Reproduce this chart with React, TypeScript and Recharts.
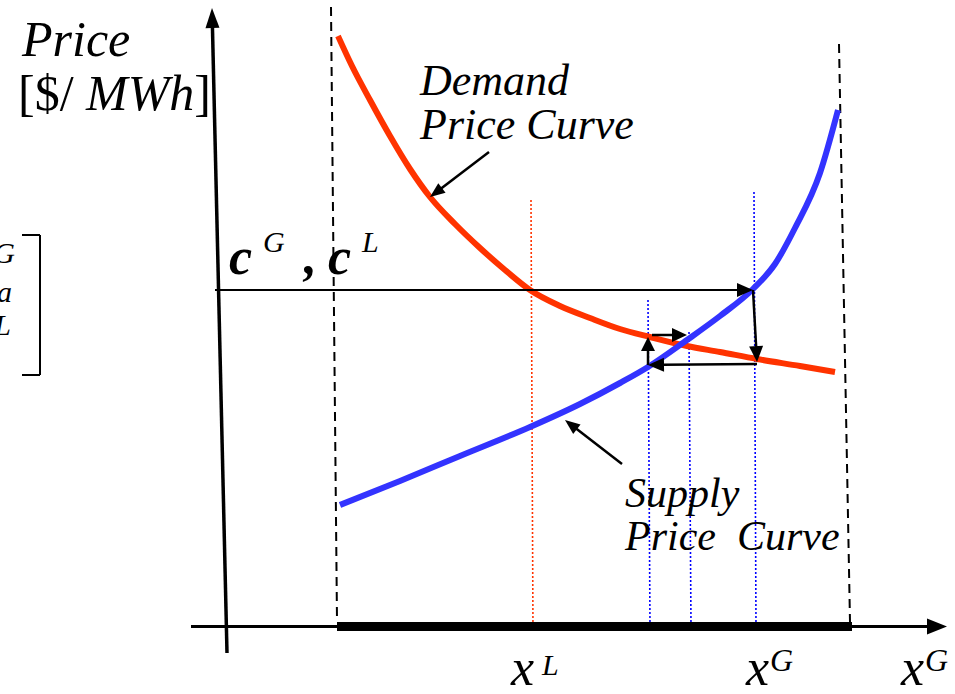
import React from "react";
import {
  ComposedChart,
  Line,
  XAxis,
  YAxis,
  ReferenceLine,
  ReferenceDot,
} from "recharts";

// Schematic units: quantity to the right, price upward
const demandQty = [338, 352, 370, 390, 410, 430, 455, 480, 505, 530, 560, 590, 620, 650, 687, 720, 757, 800, 835];
const demandPrice = [658, 628, 594, 558, 525, 497, 470, 446, 424, 404, 388, 376, 365, 357, 348, 342, 335, 328, 322];

const supplyQty = [340, 400, 460, 530, 580, 620, 648, 687, 720, 753, 775, 795, 820, 838];
const supplyPrice = [189, 213, 238, 267, 290, 311, 327, 354, 378, 405, 430, 466, 521, 584];

// price level c^G, c^L and the iteration quantities
const priceLevel = 404;
const xL = 531;
const xGsteps = [648, 689];
const xG = 754;

const demandData = demandQty.map((q, i) => ({ q, p: demandPrice[i] }));
const supplyData = supplyQty.map((q, i) => ({ q, p: supplyPrice[i] }));

const RED = "#ff3300";
const BLUE = "#3333ff";
const FONT = '"Liberation Serif", "Times New Roman", serif';

const arrowShape = (len: number, half: number, width: number) => (props: any) => {
  const { x1, y1, x2, y2 } = props;
  const dx = x2 - x1;
  const dy = y2 - y1;
  const d = Math.hypot(dx, dy) || 1;
  const ux = dx / d;
  const uy = dy / d;
  const bx = x2 - ux * len;
  const by = y2 - uy * len;
  const px = -uy * half;
  const py = ux * half;
  return (
    <g>
      <line x1={x1} y1={y1} x2={bx + ux} y2={by + uy} stroke="#000" strokeWidth={width} />
      <polygon points={`${x2},${y2} ${bx + px},${by + py} ${bx - px},${by - py}`} fill="#000" />
    </g>
  );
};

const Note = ({ x, y, render }: { x: number; y: number; render: (cx: number, cy: number) => React.ReactNode }) => (
  <ReferenceDot
    x={x}
    y={y}
    r={0}
    fill="none"
    stroke="none"
    shape={(p: any) => <g style={{ fontFamily: FONT }}>{render(p.cx, p.cy)}</g>}
  />
);

const it = { style: { fontFamily: FONT, fontStyle: "italic" as const }, fill: "#000" };

export default function App() {
  return (
    <div style={{ position: "absolute", left: 0, top: 0, width: 955, height: 694, background: "#fff", fontFamily: FONT }}>
      <ComposedChart width={955} height={694} margin={{ top: 0, right: 0, bottom: 0, left: 0 }}>
        <XAxis type="number" dataKey="q" domain={[0, 955]} hide />
        <YAxis type="number" dataKey="p" domain={[0, 694]} hide />

        {/* feasible range bounds */}
        <ReferenceLine segment={[{ x: 331, y: 687 }, { x: 337, y: 74 }]} stroke="#000" strokeWidth={2} strokeDasharray="9 6" />
        <ReferenceLine segment={[{ x: 839, y: 650 }, { x: 850, y: 72 }]} stroke="#000" strokeWidth={2} strokeDasharray="9 6" />

        {/* quantity markers */}
        <ReferenceLine segment={[{ x: xL, y: 494 }, { x: xL + 2, y: 62 }]} stroke={RED} strokeWidth={1.6} strokeDasharray="2 2" />
        <ReferenceLine segment={[{ x: xGsteps[0], y: 394 }, { x: xGsteps[0] + 2, y: 67 }]} stroke="#0000ff" strokeWidth={1.6} strokeDasharray="2 2" />
        <ReferenceLine segment={[{ x: xGsteps[1], y: 362 }, { x: xGsteps[1] + 2, y: 67 }]} stroke="#0000ff" strokeWidth={1.6} strokeDasharray="2 2" />
        <ReferenceLine segment={[{ x: xG, y: 502 }, { x: xG + 2, y: 67 }]} stroke="#0000ff" strokeWidth={1.6} strokeDasharray="2 2" />

        {/* axes */}
        <ReferenceLine segment={[{ x: 191, y: 67.5 }, { x: 947, y: 67.5 }]} shape={arrowShape(20, 8, 3)} />
        <ReferenceLine segment={[{ x: 337, y: 67.5 }, { x: 852, y: 67.5 }]} stroke="#000" strokeWidth={9} />
        <ReferenceLine segment={[{ x: 227, y: 41 }, { x: 212, y: 686 }]} shape={arrowShape(20, 7, 3.5)} />

        <Line
          data={demandData}
          dataKey="p"
          type="monotone"
          stroke={RED}
          strokeWidth={6}
          strokeDasharray="5000 0"
          dot={false}
          activeDot={false}
          isAnimationActive={false}
        />
        <Line
          data={supplyData}
          dataKey="p"
          type="monotone"
          stroke={BLUE}
          strokeWidth={6}
          strokeDasharray="5000 0"
          dot={false}
          activeDot={false}
          isAnimationActive={false}
        />

        {/* iteration arrows */}
        <ReferenceLine segment={[{ x: 215, y: priceLevel }, { x: xG - 1, y: priceLevel }]} shape={arrowShape(16, 7, 1.8)} />
        <ReferenceLine segment={[{ x: xG - 1, y: priceLevel }, { x: xG + 3, y: 332 }]} shape={arrowShape(16, 7, 2.5)} />
        <ReferenceLine segment={[{ x: xG + 3, y: 330 }, { x: xGsteps[0], y: 329 }]} shape={arrowShape(16, 7, 2.5)} />
        <ReferenceLine segment={[{ x: xGsteps[0], y: 329 }, { x: xGsteps[0], y: 357 }]} shape={arrowShape(14, 7, 2.5)} />
        <ReferenceLine segment={[{ x: xGsteps[0] + 4, y: 359 }, { x: xGsteps[1] - 2, y: 359 }]} shape={arrowShape(15, 7, 2.5)} />

        {/* curve callouts */}
        <ReferenceLine segment={[{ x: 489, y: 542 }, { x: 430, y: 497 }]} shape={arrowShape(15, 6, 2.5)} />
        <ReferenceLine segment={[{ x: 622, y: 230 }, { x: 565, y: 274 }]} shape={arrowShape(15, 6, 2.5)} />

        {/* left bracket (cut off vector) */}
        <ReferenceLine segment={[{ x: 22, y: 459 }, { x: 40, y: 459 }]} stroke="#000" strokeWidth={2} />
        <ReferenceLine segment={[{ x: 40, y: 459 }, { x: 40, y: 319 }]} stroke="#000" strokeWidth={2} />
        <ReferenceLine segment={[{ x: 22, y: 319 }, { x: 40, y: 319 }]} stroke="#000" strokeWidth={2} />

        <Note x={22} y={638} render={(x, y) => <text x={x} y={y} fontSize={50} {...it}>Price</text>} />
        <Note
          x={18}
          y={584}
          render={(x, y) => (
            <text x={x} y={y} fontSize={50} fill="#000" style={{ fontFamily: FONT }}>
              [$/ <tspan style={{ fontStyle: "italic" }}>MWh</tspan>]
            </text>
          )}
        />
        <Note x={420} y={599} render={(x, y) => <text x={x} y={y} fontSize={44} {...it}>Demand</text>} />
        <Note x={420} y={555} render={(x, y) => <text x={x} y={y} fontSize={44} {...it}>Price Curve</text>} />
        <Note x={625} y={187} render={(x, y) => <text x={x} y={y} fontSize={42} {...it}>Supply</text>} />
        <Note x={625} y={144} render={(x, y) => <text x={x} y={y} fontSize={42} {...it}>Price</text>} />
        <Note x={737} y={144} render={(x, y) => <text x={x} y={y} fontSize={42} {...it}>Curve</text>} />

        <Note
          x={229}
          y={420}
          render={(x, y) => (
            <g>
              <text x={x} y={y} fontSize={52} fontWeight="bold" {...it}>c</text>
              <text x={x + 34} y={y - 22} fontSize={30} {...it}>G</text>
              <text x={x + 75} y={y} fontSize={52} fontWeight="bold" {...it}>,</text>
              <text x={x + 99} y={y} fontSize={52} fontWeight="bold" {...it}>c</text>
              <text x={x + 133} y={y - 22} fontSize={30} {...it}>L</text>
            </g>
          )}
        />

        <Note
          x={15}
          y={431}
          render={(x, y) => (
            <g>
              <text x={x} y={y} fontSize={30} textAnchor="end" {...it}>G</text>
              <text x={x - 3} y={y + 39} fontSize={30} textAnchor="end" {...it}>a</text>
              <text x={x - 4} y={y + 72} fontSize={30} textAnchor="end" {...it}>L</text>
            </g>
          )}
        />

        <Note
          x={511}
          y={9}
          render={(x, y) => (
            <g>
              <text x={x} y={y} fontSize={52} {...it}>x</text>
              <text x={x + 31} y={y - 10} fontSize={30} {...it}>L</text>
            </g>
          )}
        />
        <Note
          x={746}
          y={9}
          render={(x, y) => (
            <g>
              <text x={x} y={y} fontSize={52} {...it}>x</text>
              <text x={x + 24} y={y - 14} fontSize={32} {...it}>G</text>
            </g>
          )}
        />
        <Note
          x={901}
          y={9}
          render={(x, y) => (
            <g>
              <text x={x} y={y} fontSize={52} {...it}>x</text>
              <text x={x + 24} y={y - 14} fontSize={32} {...it}>G</text>
            </g>
          )}
        />
      </ComposedChart>
    </div>
  );
}
